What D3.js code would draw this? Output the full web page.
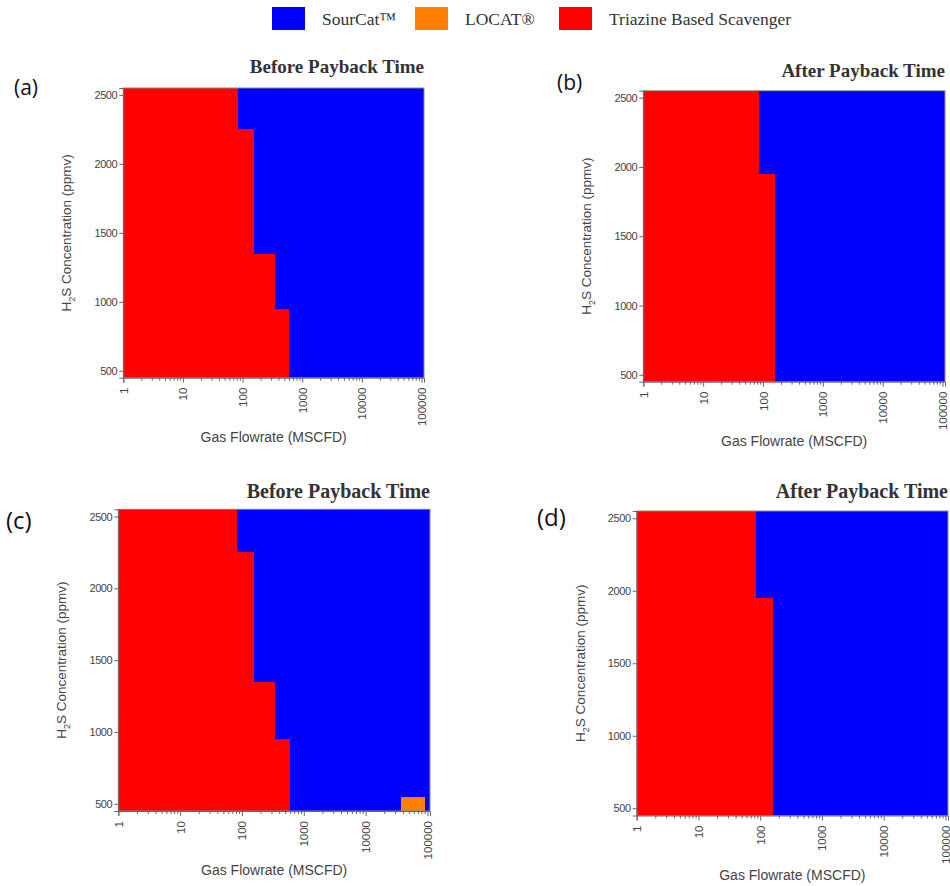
<!DOCTYPE html>
<html>
<head>
<meta charset="utf-8">
<script src="https://cdn.jsdelivr.net/npm/d3@7"></script>
<style>
  body { margin: 0; background: #fff; }
  svg { display: block; }
</style>
</head>
<body>
<svg id="chart" width="950" height="886"></svg>
<script>
// technologies and their colours
const techNames = ["SourCat™", "LOCAT®", "Triazine Based Scavenger"];
const techColors = ["#0000ff", "#ff8000", "#ff0000"];

// axis ticks and domains
const concTicks = [500, 1000, 1500, 2000, 2500];
const flowTicks = [1, 10, 100, 1000, 10000, 100000];
const concRange = [450, 2550];
const flowRange = [1, 110000];

// triazine region per concentration band: [low ppmv, high ppmv, max flowrate]
const triazineBefore = [[450, 950, 600], [950, 1350, 345], [1350, 2250, 155], [2250, 2550, 84]];
const triazineAfter = [[450, 1950, 160], [1950, 2550, 85]];
// LOCAT region (panel c only): [low ppmv, high ppmv, min flow, max flow]
const locatBefore = [[450, 550, 38000, 90000]];

// panel boxes (pixels) - the four panels were pasted at slightly different sizes
const panels = [
  {label: "(a)", lx: 14, ly: 95, lsize: 21, title: "Before Payback Time", tsize: 19, ty: 73,
   left: 123.3, right: 424, top: 88, bottom: 377.7, triazine: triazineBefore, locat: []},
  {label: "(b)", lx: 557, ly: 90, lsize: 21, title: "After Payback Time", tsize: 19, ty: 77,
   left: 643.3, right: 945, top: 90.7, bottom: 381.7, triazine: triazineAfter, locat: []},
  {label: "(c)", lx: 6, ly: 529, lsize: 24, title: "Before Payback Time", tsize: 20, ty: 498,
   left: 118.3, right: 430, top: 509.3, bottom: 811, triazine: triazineBefore, locat: locatBefore},
  {label: "(d)", lx: 537, ly: 526, lsize: 24, title: "After Payback Time", tsize: 20, ty: 498,
   left: 636.7, right: 948, top: 511, bottom: 815.5, triazine: triazineAfter, locat: []}
];

const svg = d3.select('#chart');

// legend
const legendX = [272, 415, 559];
const legend = svg.append('g');
techNames.forEach((name, i) => {
  legend.append('rect')
    .attr('x', legendX[i]).attr('y', 7)
    .attr('width', 33).attr('height', 23)
    .attr('fill', techColors[i]);
  legend.append('text')
    .attr('x', legendX[i] + 50).attr('y', 25)
    .attr('font-family', 'Liberation Serif, serif')
    .attr('font-size', 17.5)
    .attr('fill', '#333')
    .text(name);
});

panels.forEach(p => {
  const x = d3.scaleLog().domain(flowRange).range([p.left, p.right]);
  const y = d3.scaleLinear().domain(concRange).range([p.bottom, p.top]);
  const g = svg.append('g');
  const cells = g.append('g').attr('shape-rendering', 'crispEdges');

  // SourCat everywhere first
  cells.append('rect')
    .attr('x', x(flowRange[0])).attr('y', y(concRange[1]))
    .attr('width', x(flowRange[1]) - x(flowRange[0]))
    .attr('height', y(concRange[0]) - y(concRange[1]))
    .attr('fill', techColors[0]);

  // triazine bands
  cells.selectAll('.tri').data(p.triazine).enter().append('rect')
    .attr('x', x(flowRange[0]))
    .attr('y', d => y(d[1]))
    .attr('width', d => x(d[2]) - x(flowRange[0]))
    .attr('height', d => y(d[0]) - y(d[1]) + 0.5)
    .attr('fill', techColors[2]);

  // locat
  cells.selectAll('.loc').data(p.locat).enter().append('rect')
    .attr('x', d => x(d[2]))
    .attr('y', d => y(d[1]))
    .attr('width', d => x(d[3]) - x(d[2]))
    .attr('height', d => y(d[0]) - y(d[1]))
    .attr('fill', techColors[1]);

  // frame
  g.append('rect')
    .attr('x', p.left).attr('y', p.top)
    .attr('width', p.right - p.left).attr('height', p.bottom - p.top)
    .attr('fill', 'none').attr('stroke', '#8a8a8a').attr('stroke-width', 1);

  // y axis
  const yAxis = g.append('g')
    .attr('transform', `translate(${p.left},0)`)
    .call(d3.axisLeft(y).tickValues(concTicks).tickSize(4).tickPadding(2).tickFormat(d3.format('d')));
  yAxis.select('.domain').attr('stroke', '#666');
  yAxis.selectAll('line').attr('stroke', '#666');
  yAxis.selectAll('text')
    .attr('font-family', 'Liberation Sans, Arial, sans-serif')
    .attr('font-size', 11).attr('fill', '#444')
    .attr('letter-spacing', -0.4);

  // x axis with minor log ticks
  const minor = [];
  flowTicks.slice(0, -1).forEach(t => {
    [2, 3, 4, 5, 6, 7, 8, 9].forEach(m => minor.push(t * m));
  });
  const xMinor = g.append('g')
    .attr('transform', `translate(0,${p.bottom})`)
    .call(d3.axisBottom(x).tickValues(minor).tickSize(3).tickFormat(''));
  xMinor.select('.domain').remove();
  xMinor.selectAll('line').attr('stroke', '#666');

  const xAxis = g.append('g')
    .attr('transform', `translate(0,${p.bottom})`)
    .call(d3.axisBottom(x).tickValues(flowTicks).tickSize(5).tickFormat(d3.format('d')));
  xAxis.select('.domain').attr('stroke', '#666');
  xAxis.selectAll('line').attr('stroke', '#666');
  xAxis.selectAll('text')
    .attr('font-family', 'Liberation Sans, Arial, sans-serif')
    .attr('font-size', 11.5).attr('fill', '#444')
    .attr('text-anchor', 'end')
    .attr('transform', 'rotate(-90)')
    .attr('x', -10).attr('y', 0).attr('dy', '0.35em');

  // axis titles
  const yt = g.append('text')
    .attr('transform', `translate(${p.left - 52},${(p.top + p.bottom) / 2}) rotate(-90)`)
    .attr('text-anchor', 'middle')
    .attr('font-family', 'Liberation Sans, Arial, sans-serif')
    .attr('font-size', 13.5).attr('fill', '#444');
  yt.append('tspan').text('H');
  yt.append('tspan').attr('font-size', 9).attr('dy', 4).text('2');
  yt.append('tspan').attr('dy', -4).text('S Concentration (ppmv)');

  g.append('text')
    .attr('x', (p.left + p.right) / 2).attr('y', p.bottom + 64)
    .attr('text-anchor', 'middle')
    .attr('font-family', 'Liberation Sans, Arial, sans-serif')
    .attr('font-size', 14).attr('fill', '#444')
    .text('Gas Flowrate (MSCFD)');

  // panel title
  g.append('text')
    .attr('x', p.right).attr('y', p.ty)
    .attr('text-anchor', 'end')
    .attr('font-family', 'Liberation Serif, serif')
    .attr('font-weight', 'bold')
    .attr('font-size', p.tsize).attr('fill', '#333')
    .text(p.title);

  // panel label
  g.append('text')
    .attr('x', p.lx).attr('y', p.ly)
    .attr('font-family', 'Open Sans, Liberation Sans, sans-serif')
    .attr('font-size', p.lsize).attr('fill', '#111')
    .text(p.label);
});
</script>
</body>
</html>
